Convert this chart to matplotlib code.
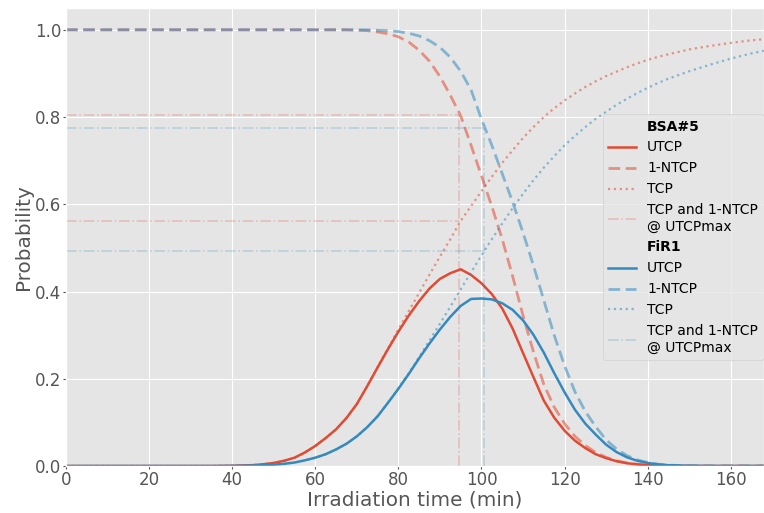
import matplotlib
matplotlib.use("Agg")
import matplotlib.pyplot as plt
from matplotlib.lines import Line2D

# irradiation time (min)
t = [0, 5, 10, 15, 20, 25, 30, 35, 40, 45,
     47.5, 50, 52.5, 55, 57.5, 60, 62.5, 65, 67.5, 70, 72.5, 75,
     77.5, 80, 82.5, 85, 87.5, 90, 92.5, 95, 97.5, 100, 102.5, 105, 107.5, 110,
     112.5, 115, 117.5, 120, 122.5, 125, 127.5, 130,
     132.5, 135, 137.5, 140, 142.5, 145,
     150, 155, 160, 165, 170]

# BSA#5
bsa_utcp = [0, 0, 0, 0, 0, 0, 0, 0, 0.0005, 0.002,
            0.004, 0.007, 0.012, 0.019, 0.031, 0.046, 0.064, 0.084, 0.11, 0.142, 0.183, 0.226,
            0.268, 0.308, 0.345, 0.378, 0.407, 0.429, 0.442, 0.451, 0.438, 0.419, 0.394, 0.361, 0.315, 0.259,
            0.204, 0.15, 0.111, 0.081, 0.058, 0.041, 0.027, 0.018,
            0.011, 0.0064, 0.0037, 0.0019, 0.001, 0.0006,
            0.0001, 0, 0, 0, 0]
bsa_1ntcp = [1, 1, 1, 1, 1, 1, 1, 1, 1, 1,
             1, 1, 1, 1, 1, 1, 1, 1, 1, 0.999, 0.998, 0.995,
             0.991, 0.984, 0.972, 0.953, 0.928, 0.893, 0.85, 0.803, 0.735, 0.665, 0.595, 0.52, 0.435, 0.345,
             0.262, 0.187, 0.135, 0.097, 0.068, 0.047, 0.031, 0.02,
             0.012, 0.007, 0.004, 0.002, 0.0011, 0.0006,
             0.0001, 0, 0, 0, 0]
bsa_tcp = [0, 0, 0, 0, 0, 0, 0, 0, 0.0005, 0.002,
           0.004, 0.007, 0.012, 0.019, 0.031, 0.046, 0.064, 0.084, 0.11, 0.142, 0.183, 0.227,
           0.27, 0.313, 0.355, 0.397, 0.439, 0.48, 0.52, 0.562, 0.596, 0.63, 0.663, 0.695, 0.724, 0.752,
           0.777, 0.80, 0.82, 0.838, 0.854, 0.869, 0.882, 0.894,
           0.904, 0.914, 0.923, 0.931, 0.938, 0.944,
           0.955, 0.963, 0.97, 0.976, 0.98]
bsa_tmax, bsa_tcp_at_max, bsa_ntcp_at_max = 94.7, 0.561, 0.805

# FiR1
fir_utcp = [0, 0, 0, 0, 0, 0, 0, 0, 0.0002, 0.001,
            0.002, 0.003, 0.005, 0.008, 0.013, 0.019, 0.027, 0.038, 0.051, 0.068, 0.089, 0.114,
            0.145, 0.177, 0.211, 0.247, 0.281, 0.313, 0.342, 0.367, 0.383, 0.384, 0.382, 0.373, 0.358, 0.334,
            0.301, 0.26, 0.213, 0.169, 0.129, 0.097, 0.072, 0.049,
            0.032, 0.02, 0.012, 0.007, 0.0037, 0.0018,
            0.0005, 0, 0, 0, 0]
fir_1ntcp = [1, 1, 1, 1, 1, 1, 1, 1, 1, 1,
             1, 1, 1, 1, 1, 1, 1, 1, 1, 1, 1, 0.999,
             0.998, 0.996, 0.992, 0.986, 0.975, 0.96, 0.937, 0.905, 0.862, 0.795, 0.735, 0.67, 0.605, 0.535,
             0.46, 0.38, 0.3, 0.23, 0.17, 0.125, 0.09, 0.06,
             0.039, 0.024, 0.014, 0.008, 0.0042, 0.002,
             0.0005, 0, 0, 0, 0]
fir_tcp = [0, 0, 0, 0, 0, 0, 0, 0, 0.0002, 0.001,
           0.002, 0.003, 0.005, 0.008, 0.013, 0.019, 0.027, 0.038, 0.051, 0.068, 0.089, 0.114,
           0.145, 0.178, 0.213, 0.25, 0.288, 0.326, 0.365, 0.405, 0.444, 0.483, 0.52, 0.556, 0.591, 0.624,
           0.655, 0.684, 0.71, 0.735, 0.757, 0.777, 0.796, 0.812,
           0.828, 0.842, 0.855, 0.867, 0.878, 0.888,
           0.905, 0.92, 0.934, 0.946, 0.956]
fir_tmax, fir_tcp_at_max, fir_ntcp_at_max = 100.7, 0.494, 0.776

plt.style.use('ggplot')
plt.rcParams['font.size'] = 12
plt.rcParams['xtick.major.size'] = 2
plt.rcParams['ytick.major.size'] = 2
plt.rcParams['xtick.major.pad'] = 1.5
plt.rcParams['ytick.major.pad'] = 1.5
plt.rcParams['axes.labelpad'] = 1.5

fig = plt.figure(figsize=(7.64, 5.13), dpi=100)
ax = fig.add_axes([66/764, 47/513, 698/764, 458/513])

handles = []
for name, utcp, ntcp, tcp, tmax, tcpm, ntcpm, col in [
        ("BSA#5", bsa_utcp, bsa_1ntcp, bsa_tcp, bsa_tmax, bsa_tcp_at_max, bsa_ntcp_at_max, '#E24A33'),
        ("FiR1", fir_utcp, fir_1ntcp, fir_tcp, fir_tmax, fir_tcp_at_max, fir_ntcp_at_max, '#348ABD')]:
    handles.append(Line2D([], [], linestyle='none', label=name))
    l1, = ax.plot(t, utcp, color=col, lw=1.8, label="UTCP")
    l2, = ax.plot(t, ntcp, color=col, lw=2, alpha=0.55, dashes=(4.2, 2.0), label="1-NTCP")
    l3, = ax.plot(t, tcp, color=col, lw=1.6, alpha=0.55, linestyle=':', label="TCP")
    l4, = ax.plot([0, tmax], [tcpm, tcpm], color=col, lw=1.2, alpha=0.25, linestyle='-.',
                  label="TCP and 1-NTCP\n@ UTCPmax")
    ax.plot([0, tmax], [ntcpm, ntcpm], color=col, lw=1.2, alpha=0.25, linestyle='-.')
    ax.plot([tmax, tmax], [0, ntcpm], color=col, lw=1.2, alpha=0.25, linestyle='-.')
    handles += [l1, l2, l3, l4]

ax.set_xlim(0, 168)
ax.set_ylim(0, 1.05)
ax.set_xlabel("Irradiation time (min)")
ax.set_ylabel("Probability")

leg = ax.legend(handles=handles, loc='center left', bbox_to_anchor=(0.769, 0.5),
                borderaxespad=0, fontsize=10, handlelength=2.0)
for txt in leg.get_texts():
    if txt.get_text() in ("BSA#5", "FiR1"):
        txt.set_fontweight('bold')

plt.savefig("out.png", dpi=100)
